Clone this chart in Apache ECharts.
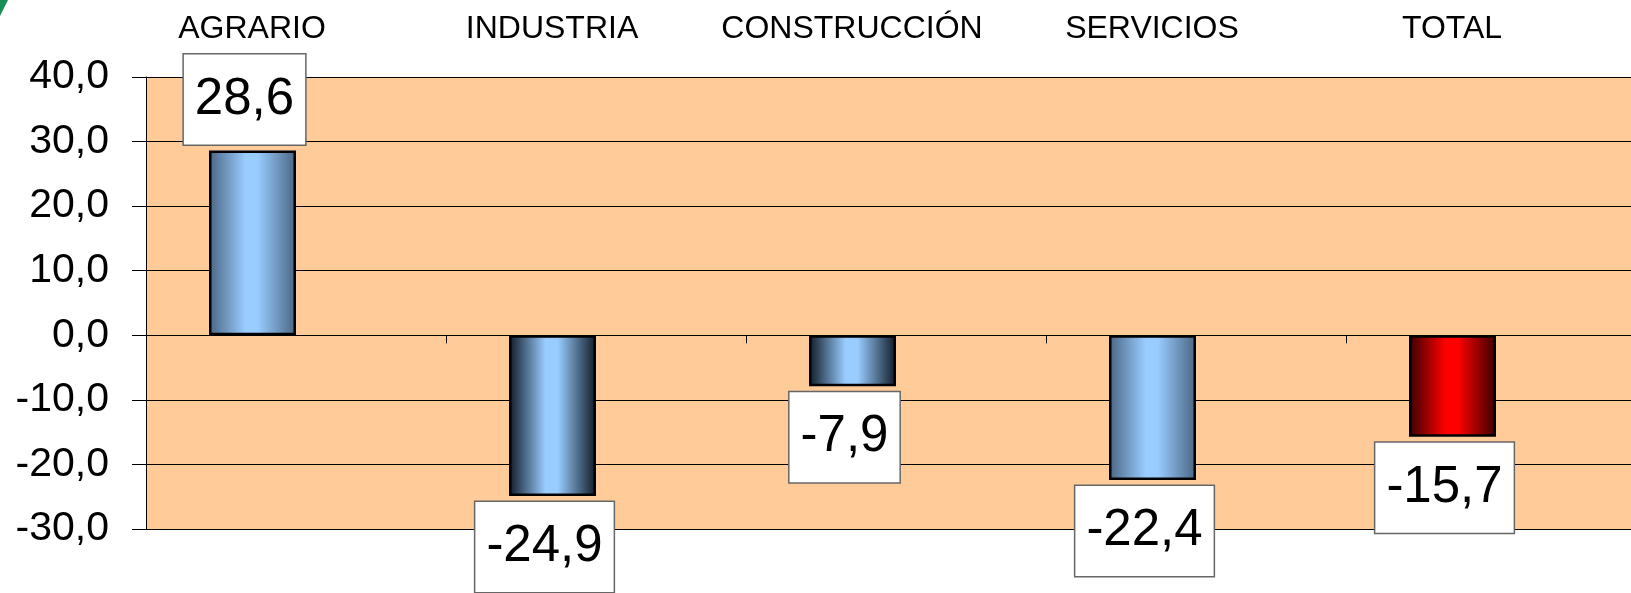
<!DOCTYPE html>
<html>
<head>
<meta charset="utf-8">
<script src="https://cdn.jsdelivr.net/npm/echarts@6/dist/echarts.min.js"></script>
<style>
  html, body { margin: 0; padding: 0; background: #ffffff; overflow: hidden; width: 1631px; height: 593px; }
  #chart { width: 1660px; height: 593px; }
</style>
</head>
<body>
<div id="chart"></div>
<script>
// ---- data ----
const categories = ['AGRARIO', 'INDUSTRIA', 'CONSTRUCCIÓN', 'SERVICIOS', 'TOTAL'];
const values = [28.6, -24.9, -7.9, -22.4, -15.7];
const yTicks = [-30, -20, -10, 0, 10, 20, 30, 40];

// ---- styles (kept apart from data) ----
const FONT = '"Liberation Sans", Arial, sans-serif';
const totalCategory = 'TOTAL';
const blueEdges = ['#4a6582', '#0f1a26', '#0f1a26', '#4a6582'];

function fmt(v) { return v.toFixed(1).replace('.', ','); }

function barGradient(idx) {
  const isTotal = categories[idx] === totalCategory;
  const edge = isTotal ? '#3a0000' : blueEdges[idx % blueEdges.length];
  const mid = isTotal ? '#ff0000' : '#99ccff';
  return new echarts.graphic.LinearGradient(0, 0, 1, 0, [
    { offset: 0, color: edge },
    { offset: 0.42, color: mid },
    { offset: 0.56, color: mid },
    { offset: 1, color: edge }
  ]);
}

const chart = echarts.init(document.getElementById('chart'), null, { renderer: 'canvas' });

const option = {
  animation: false,
  backgroundColor: '#ffffff',
  textStyle: { fontFamily: FONT },
  graphic: [{
    type: 'polygon',
    shape: { points: [[0, 0], [8, 0], [0, 16]] },
    style: { fill: '#1a8f55' }
  }],
  grid: {
    left: 146, top: 77, width: 1500, height: 452,
    show: true, backgroundColor: '#ffcc99', borderWidth: 0
  },
  xAxis: [{
    type: 'category',
    data: categories,
    position: 'bottom',
    axisLine: { onZero: true, lineStyle: { color: '#000', width: 1 } },
    axisTick: { show: true, length: 8, interval: 0, lineStyle: { color: '#000' } },
    axisLabel: { show: false },
    splitLine: { show: false }
  }, {
    type: 'category',
    data: categories,
    position: 'top',
    axisLine: { show: false },
    axisTick: { show: false },
    axisLabel: {
      show: true, interval: 0, fontSize: 32, color: '#000', fontFamily: FONT,
      margin: 32, padding: [0, 88, 0, 0]
    },
    splitLine: { show: false }
  }],
  yAxis: {
    type: 'value',
    min: yTicks[0], max: yTicks[yTicks.length - 1], interval: 10,
    axisLine: { show: true, lineStyle: { color: '#000', width: 1 } },
    axisTick: { show: true, length: 14, lineStyle: { color: '#000' } },
    axisLabel: {
      fontSize: 41, color: '#000', fontFamily: FONT, margin: 37,
      formatter: v => fmt(v)
    },
    splitLine: { show: true, lineStyle: { color: '#000', width: 1 } }
  },
  series: [{
    type: 'bar',
    xAxisIndex: 0,
    barWidth: 87,
    barGap: '0%',
    data: values.map((v, i) => ({
      value: v,
      itemStyle: { color: barGradient(i) },
      label: { position: v >= 0 ? 'top' : 'bottom' }
    })),
    itemStyle: { borderColor: '#000', borderWidth: 2.5 },
    label: {
      show: true,
      distance: 6,
      offset: [-8, 0],
      formatter: p => fmt(p.value),
      fontSize: 51,
      fontFamily: FONT,
      color: '#000',
      backgroundColor: '#ffffff',
      borderColor: '#666',
      borderWidth: 1.5,
      lineHeight: 58,
      padding: [16, 11, 16, 11]
    },
    z: 3
  }, {
    type: 'bar',
    xAxisIndex: 0,
    barWidth: 87,
    barGap: '0%',
    data: categories.map(() => null),
    silent: true
  }]
};

chart.setOption(option);
</script>
</body>
</html>
